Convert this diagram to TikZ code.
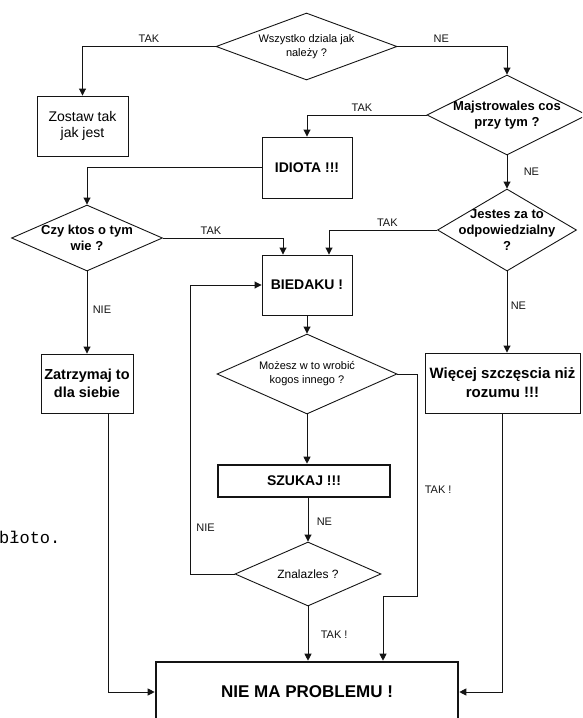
\documentclass[tikz,border=0pt]{standalone}
\usepackage{fontspec}
\setmainfont{Liberation Sans}
\setmonofont{Liberation Mono}
\usetikzlibrary{arrows.meta,shapes.geometric}
\definecolor{inkgray}{HTML}{141414}

\begin{document}
\begin{tikzpicture}[
  x=1pt,
  y=-1pt,
  font=\fontsize{11}{13}\selectfont,
  box/.style={draw=inkgray, line width=0.9pt, align=center, inner sep=2pt,
    font=\bfseries\fontsize{14}{18}\selectfont},
  thickbox/.style={box, line width=2.6pt},
  dec/.style={diamond, draw=inkgray, line width=0.9pt, inner sep=0pt},
  qtext/.style={align=center, font=\fontsize{11}{14}\selectfont},
  qbold/.style={align=center, font=\bfseries\fontsize{13}{16}\selectfont},
  flow/.style={-{Triangle[length=7pt,width=7pt]}, draw=inkgray, line width=0.9pt},
  lab/.style={font=\fontsize{11}{13}\selectfont, text=inkgray}
]
\useasboundingbox (0,0) rectangle (582,718);
\clip (0,0) rectangle (582,718);

\node[dec, minimum width=181, minimum height=67,
  label={[qtext]center:Wszystko dziala jak\\należy ?}] (q1) at (306.5,46.5) {};
\node[box, font=\fontsize{14}{16}\selectfont, minimum width=91, minimum height=60]
  (zostaw) at (82.5,126) {Zostaw tak\\jak jest};
\node[dec, minimum width=160, minimum height=80,
  label={[qbold]center:Majstrowales cos\\przy tym ?}] (q2) at (507,115) {};
\node[box, minimum width=90, minimum height=61] (idiota) at (307,167.5) {IDIOTA !!!};
\node[dec, minimum width=151, minimum height=66,
  label={[qbold]center:Czy ktos o tym\\wie ?}] (q3) at (87,238) {};
\node[dec, minimum width=139, minimum height=82,
  label={[qbold]center:Jestes za to\\odpowiedzialny\\?}] (q4) at (507,230) {};
\node[box, minimum width=90, minimum height=60] (biedaku) at (307,285) {BIEDAKU !};
\node[box, font=\bfseries\fontsize{14.5}{18}\selectfont, minimum width=92,
  minimum height=59] (zatrzymaj) at (87,383.5) {Zatrzymaj to\\dla siebie};
\node[box, font=\bfseries\fontsize{15}{19}\selectfont, minimum width=155,
  minimum height=60] (wiecej) at (502.5,383) {Więcej szczęscia niż\\rozumu !!!};
\node[dec, minimum width=180, minimum height=80,
  label={[qtext]center:Możesz w to wrobić\\kogos innego ?}] (q5) at (307,374) {};
\node[thickbox, minimum width=172, minimum height=32] (szukaj) at (304,481) {SZUKAJ !!!};
\node[dec, minimum width=146, minimum height=64,
  label={[qtext, font=\fontsize{12}{14}\selectfont]center:Znalazles ?}] (q6) at (308,574) {};
\node[thickbox, font=\bfseries\fontsize{17}{20}\selectfont, minimum width=302,
  minimum height=60] (niema) at (307,692) {NIE MA PROBLEMU !};

\node[font=\ttfamily\fontsize{17}{19}\selectfont, anchor=base west, inner sep=0pt]
  (bloto) at (-1,543) {błoto.};

\draw[flow] (q1.west) -| node[lab, pos=0.25, above] {TAK} (zostaw.north);
\draw[flow] (q1.east) -| node[lab, pos=0.2, above] {NE} (q2.north);
\draw[flow] (q2.west) -| node[lab, pos=0.27, above] {TAK} (idiota.north);
\draw[flow] (q2.south) -- node[lab, midway, right, xshift=13] {NE} (q4.north);
\draw[flow] (idiota.west) -| (q3.north);
\draw[flow] (q3.east) -| node[lab, pos=0.2, above] {TAK} ([xshift=-24]biedaku.north);
\draw[flow] (q3.south) -- node[lab, pos=0.47, right, xshift=2] {NIE} (zatrzymaj.north);
\draw[flow] (q4.west) -| node[lab, pos=0.23, above] {TAK} ([xshift=22]biedaku.north);
\draw[flow] (q4.south) -- node[lab, pos=0.42, right] {NE} (q4.south |- wiecej.north);
\draw[flow] (biedaku.south) -- (q5.north);
\draw[flow] (q5.south) -- (q5.south |- szukaj.north);
\draw[flow] (szukaj.south -| q6.north) -- node[lab, pos=0.55, right, xshift=5] {NE} (q6.north);
\draw[flow] (q6.south) -- node[lab, pos=0.53, right, xshift=9] {TAK !} (q6.south |- niema.north);

\coordinate (tjog) at (417,596);
\draw[flow] (q5.east) -| node[lab, pos=0.76, right, xshift=4] {TAK !} (tjog)
  -| ([xshift=76]niema.north);
\draw[flow] (q6.west) -- ++(-44,0) |- node[lab, pos=0.08, right, xshift=2] {NIE} (biedaku.west);

\draw[flow] ([xshift=21]zatrzymaj.south) |- (niema.west);
\draw[flow] (wiecej.south) |- (niema.east);

\end{tikzpicture}
\end{document}
